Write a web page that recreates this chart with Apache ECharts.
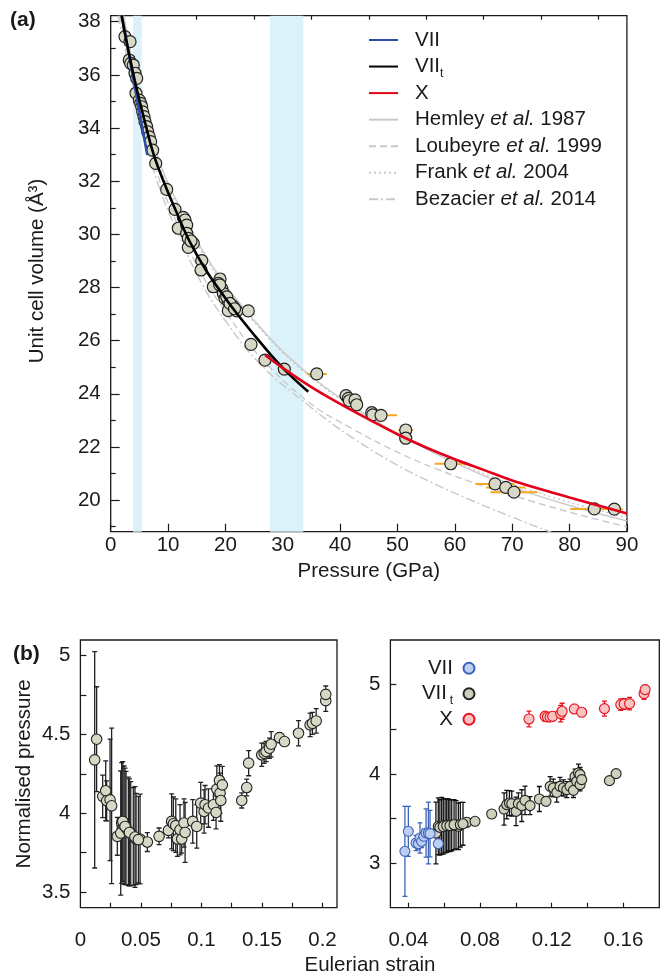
<!doctype html>
<html>
<head>
<meta charset="utf-8">
<script src="https://cdn.jsdelivr.net/npm/echarts@6/dist/echarts.min.js"></script>
<style>
html, body { margin: 0; padding: 0; background: #fff; }
#chart { width: 669px; height: 977px; }
</style>
</head>
<body>
<div id="chart"></div>
<script>
// ---- (a) measured points: pressure (GPa), volume (A^3), pressure error (GPa)
var pTop = [2.49,3.37,3.24,3.49,3.94,4.24,4.53,4.41,4.99,5.23,5.41,5.58,5.81,5.98,6.28,6.45,6.73,6.97,7.32,7.85,
  9.76,11.21,12.66,12.96,11.79,13.25,13.25,13.53,14.4,13.53,15.87,15.75,19.06,18.76,18.19,19.35,19.63,19.93,20.51,21.1,
  20.51,21.97,23.99,24.46,26.9,30.27,35.92,41.03,41.43,41.6,42.6,42.89,45.51,45.68,47.13,51.44,51.44,59.29,67.01,68.88,
  70.32,84.32,87.81,17.89,20.23,21.38,14.0,19.0,20.8,21.6];
var vTop = [37.44,37.25,36.56,36.43,36.37,36.06,35.87,35.31,35.05,34.93,34.80,34.61,34.43,34.24,34.05,33.86,33.67,33.49,33.17,32.67,
  31.69,30.94,30.64,30.54,30.23,30.35,30.04,29.85,29.66,29.51,29.01,28.66,28.32,28.16,28.06,27.97,27.78,27.59,27.47,27.34,
  27.13,27.12,27.12,25.86,25.27,24.93,24.75,23.93,23.83,23.74,23.77,23.59,23.29,23.21,23.19,22.64,22.33,21.37,20.61,20.48,
  20.30,19.67,19.66,28.03,27.65,27.28,29.75,28.1,27.4,27.2];
var ePTop = [0,0,0,0,0,0,0,0,0,0, 0,0,0,0,0,0,0,0,0,0, 0,0,0.4,0.5,0,0,0.4,0,0.5,0, 0,0,0.5,0,0,0,0.5,0,0,0.5,
  0,0,0.8,0,0,0,1.75,1.2,0,0, 0.8,0.8,1.0,0,2.8,1.3,0,2.8,3.4,3.4, 4.1,4.2,1.5,0,0,0,0,0,0,0];

// ---- (a) equations of state
var pVII = [1.92, 6.38];
var vVII = [38.25, 32.98];
var pVIIt = [1.9, 3, 4.5, 6, 7.5, 9.3, 11.5, 13.8, 16.7, 19.6, 22, 25, 28, 31, 34.45];
var vVIIt = [38.23, 37.0, 35.5, 34.2, 33.0, 31.95, 30.82, 29.72, 28.62, 27.72, 27.02, 26.22, 25.45, 24.76, 24.08];
var pX = [26.9, 30, 35, 40, 45, 50, 55, 60, 65, 70, 75, 80, 85, 90];
var vX = [25.46, 24.97, 24.25, 23.62, 23.04, 22.48, 21.98, 21.54, 21.14, 20.74, 20.41, 20.1, 19.8, 19.5];
var pHem = [2.3, 4, 6, 9, 12, 16, 20, 25, 30, 35, 40, 50, 60, 70, 80, 90];
var vHem = [38.23, 36.25, 34.5, 32.45, 31.03, 29.4, 28.1, 26.77, 25.6, 24.65, 23.85, 22.5, 21.4, 20.5, 19.8, 19.22];
var pFra = [2.1, 4, 6, 9, 12, 16, 20, 25, 30, 35, 40, 50, 60, 70, 80, 90];
var vFra = [38.23, 36.1, 34.35, 32.3, 30.9, 29.3, 28.0, 26.7, 25.55, 24.6, 23.8, 22.5, 21.45, 20.6, 19.92, 19.35];
var pLou = [1.6, 3, 5, 8, 12, 16, 20, 26, 34.45, 42, 50.44, 57, 64.4, 73.7, 82, 90];
var vLou = [38.23, 36.65, 34.75, 32.35, 30.2, 28.45, 27.1, 25.4, 23.7, 22.7, 21.76, 21.16, 20.57, 19.94, 19.43, 19.0];
var pBez = [1.3, 3, 5, 8, 12, 16, 20, 26, 34.75, 42, 50.44, 57, 62.07, 70, 76.6, 80];
var vBez = [38.23, 36.5, 34.5, 32.05, 29.9, 28.1, 26.75, 25.13, 23.52, 22.37, 21.26, 20.56, 20.07, 19.36, 18.81, 18.52];
// phase-transition pressure ranges (GPa)
var bandP = [[3.89, 5.41], [27.78, 33.58]];

// ---- (b) left: Eulerian strain, normalised pressure, error
var eL = [0.0118,0.0134,0.0184,0.0209,0.0217,0.0245,0.0258,
  0.0305,0.0333,0.0341,0.036,0.0377,0.0396,0.0416,0.0437,0.046,0.0493,0.0553,
  0.035,0.0369,0.0405,0.0451,0.0479, 0.065,0.0727,
  0.0754,0.0768,0.0788,0.0801,0.0823,0.0837,0.0856,0.0865,0.0928,0.0961,
  0.0994,0.1022,0.103,0.1058,0.1099,0.1121,0.1127,0.1149,0.1154,0.116,0.1173,
  0.1333,0.1374,0.139, 0.1498,0.1518,0.1534,0.1562,0.1576,0.1645,0.1686,
  0.1802,0.1898,0.1917,0.1948, 0.2027,0.2027];
var npL = [4.339,4.470,4.107,4.143,4.079,4.085,4.047,
  3.853,3.874,3.938,3.925,3.906,3.885,3.870,3.853,3.836,3.836,3.817,
  3.948,3.916,3.878,3.849,3.832, 3.853,3.891,
  3.948,3.933,3.921,3.836,3.895,3.836,3.938,3.878,3.948,3.916,
  4.064,4.011,4.054,4.033,4.054,4.005,4.153,4.208,4.128,4.081,4.180,
  4.081,4.163,4.318, 4.371,4.381,4.392,4.413,4.438,4.480,4.455,
  4.508,4.561,4.571,4.586, 4.715,4.755];
var errL = [0.687,0.333,0.135,0.19,0.127,0.386,0.494,
  0.12,0.394,0.383,0.375,0.36,0.344,0.33,0.31,0.29,0.285,0.06,
  0.38,0.37,0.34,0.32,0.275, 0.053,0.048,
  0.175,0.17,0.17,0.11,0.16,0.09,0.153,0.19,0.138,0.138,
  0.132,0.137,0.122,0.122,0.1,0.105,0.148,0.1,0.127,0.132,0.117,
  0.048,0.053,0.08, 0.074,0.064,0.064,0.064,0.08,0.032,0.021,
  0.08,0.074,0.07,0.078, 0.068,0.053];

// ---- (b) right: per phase
var eVII = [0.0381,0.04,0.0443,0.0456,0.0465,0.0474,0.0487,0.0499,0.0512,0.0521,0.0567];
var npVII = [3.132,3.356,3.225,3.217,3.281,3.244,3.3,3.337,3.337,3.33,3.217];
var errVII = [0.504,0.28,0.085,0.06,0.17,0.07,0.08,0.27,0.346,0.26,0.04];
var eVIIt = [0.0554,0.0567,0.0586,0.0605,0.0623,0.0642,0.0666,0.0679,0.0726,0.0772,0.0865,0.0934,0.0949,0.0964,0.0977,
  0.1001,0.1014,0.1033,0.1051,0.1079,0.1131,0.1168,0.1191,0.1209,0.1228,0.1246,0.1265,0.1284,0.1302,0.1321,
  0.133,0.1339,0.1349,0.1358,0.1358,0.1367,0.1522,0.1559, 0.0576,0.0595,0.0614,0.0632,0.0655,0.069,0.0705];
var npVIIt = [3.337,3.412,3.419,3.419,3.43,3.423,3.43,3.412,3.457,3.468,3.55,3.606,3.655,3.673,3.666,
  3.58,3.666,3.644,3.703,3.644,3.718,3.692,3.86,3.842,3.793,3.86,3.842,3.823,3.86,3.815,
  3.972,3.916,4.01,3.879,3.991,3.935,3.924,4.002, 3.40,3.41,3.42,3.42,3.43,3.43,3.44];
var errVIIt = [0.346,0.318,0.318,0.303,0.29,0.285,0.27,0.26,0.05,0.04,0.03,0.18,0.16,0.14,0.14,
  0.16,0.12,0.178,0.16,0.1,0.14,0.03,0.11,0.1,0.11,0.1,0.09,0.09,0.08,0.08,
  0.08,0.07,0.1,0.07,0.08,0.07,0,0, 0.31,0.31,0.3,0.29,0.28,0.25,0.24];
var eX = [0.1073,0.1163,0.1176,0.1191,0.1205,0.125,0.1258,0.1326,0.1367,0.1494,0.1585,0.1604,0.1634,0.1715,0.1721];
var npX = [4.615,4.645,4.637,4.637,4.645,4.675,4.701,4.727,4.69,4.731,4.776,4.783,4.787,4.899,4.944];
var errX = [0.088,0.056,0.05,0.05,0.05,0.093,0.09,0.05,0.04,0.084,0.065,0.06,0.07,0.065,0.05];

// ---- tick positions
var topXMajor = [0,10,20,30,40,50,60,70,80,90];
var topXMinor = [5,15,25,35,45,55,65,75,85];
var topYMajor = [20,22,24,26,28,30,32,34,36,38];
var topYMinor = [19,21,23,25,27,29,31,33,35,37];
var blXTicks = [0.025,0.05,0.075,0.1,0.125,0.15,0.175,0.2];
var blXLabels = [0,0.05,0.1,0.15,0.2];
var blYTicks = [3.5,3.75,4,4.25,4.5,4.75,5];
var blYLabels = [3.5,4,4.5,5];
var brXTicks = [0.04,0.06,0.08,0.1,0.12,0.14,0.16];
var brXLabels = [0.04,0.08,0.12,0.16];
var brYTicks = [3,3.5,4,4.5,5];
var brYLabels = [3,4,5];

var FF = "'Liberation Sans', Arial, Helvetica, sans-serif";
var FS = 20.5;
var INK = '#1a1a1a';

function zip(a, b, c) {
  return a.map(function (v, i) { return c ? [v, b[i], c[i]] : [v, b[i]]; });
}

function vErr(color, cap) {
  return function (params, api) {
    var x = api.value(0), y = api.value(1), e = api.value(2);
    if (!e) return;
    var t = api.coord([x, y + e]), b = api.coord([x, y - e]);
    var st = { stroke: color, lineWidth: 1.3 };
    return { type: 'group', children: [
      { type: 'line', shape: { x1: t[0], y1: t[1], x2: b[0], y2: b[1] }, style: st },
      { type: 'line', shape: { x1: t[0] - cap, y1: t[1], x2: t[0] + cap, y2: t[1] }, style: st },
      { type: 'line', shape: { x1: b[0] - cap, y1: b[1], x2: b[0] + cap, y2: b[1] }, style: st }
    ] };
  };
}

function hErr(params, api) {
  var x = api.value(0), y = api.value(1), e = api.value(2);
  if (!e) return;
  var l = api.coord([x - e, y]), r = api.coord([x + e, y]);
  return { type: 'line', shape: { x1: l[0], y1: l[1], x2: r[0], y2: r[1] },
    style: { stroke: '#f7a823', lineWidth: 2 } };
}

function valAxis(grid, min, max, ticks, labels, len, extra) {
  var ax = {
    type: 'value', gridIndex: grid, min: min, max: max,
    axisLine: { show: false }, splitLine: { show: false },
    axisTick: { show: true, inside: true, length: len, customValues: ticks,
      lineStyle: { color: INK, width: 1.2 } },
    axisLabel: labels ? { show: true, customValues: labels, color: INK, fontSize: FS, fontFamily: FF }
      : { show: false }
  };
  for (var k in extra) {
    if (k === 'axisLabel') { for (var j in extra[k]) ax.axisLabel[j] = extra[k][j]; }
    else ax[k] = extra[k];
  }
  return ax;
}

function refLine(name, p, v, type) {
  return { name: name, type: 'line', xAxisIndex: 0, yAxisIndex: 0, data: zip(p, v),
    symbol: 'none', smooth: 0.4, z: 1, silent: true,
    itemStyle: { color: '#c9c9c9' },
    lineStyle: { color: '#c9c9c9', width: 1.4, type: type } };
}

var topNames = {
  VII: '{g| }{n|VII}',
  VIIt: '{g| }{n|VII}{s|t}',
  X: '{g| }{n|X}',
  Hemley: '{g| }{n|Hemley }{i|et al.}{n| 1987}',
  Loubeyre: '{g| }{n|Loubeyre }{i|et al.}{n| 1999}',
  Frank: '{g| }{n|Frank }{i|et al.}{n| 2004}',
  Bezacier: '{g| }{n|Bezacier }{i|et al.}{n| 2014}'
};
var botNames = { sVII: '{r|VII}{h| }', sVIIt: '{q|VII}{s|t}{h| }', sX: '{r|X}{h| }' };

var chart = echarts.init(document.getElementById('chart'));
var option = {
  animation: false,
  backgroundColor: '#fff',
  textStyle: { fontFamily: FF },
  grid: [
    { left: 110.7, top: 15.7, width: 516.2, height: 516, show: true, borderColor: INK, borderWidth: 1.3,
      backgroundColor: 'transparent', outerBoundsMode: 'none' },
    { left: 80.4, top: 640, width: 256.6, height: 267.7, show: true, borderColor: INK, borderWidth: 1.3,
      backgroundColor: 'transparent', outerBoundsMode: 'none' },
    { left: 390.4, top: 640, width: 268.9, height: 267.7, show: true, borderColor: INK, borderWidth: 1.3,
      backgroundColor: 'transparent', outerBoundsMode: 'none' }
  ],
  xAxis: [
    valAxis(0, 0, 90, topXMajor, topXMajor, 8, { axisLabel: { margin: 3 },
      name: 'Pressure (GPa)', nameLocation: 'middle', nameGap: 17,
      nameTextStyle: { color: INK, fontSize: FS, fontFamily: FF } }),
    valAxis(0, 0, 90, topXMinor, null, 4, {}),
    valAxis(1, 0, 0.212, blXTicks, blXLabels, 5, { axisLabel: { margin: 22 } }),
    valAxis(2, 0.03, 0.18, brXTicks, brXLabels, 5, { axisLabel: { margin: 22 } })
  ],
  yAxis: [
    valAxis(0, 18.813, 38.226, topYMajor, topYMajor, 9, { position: 'left', axisLabel: { margin: 10 } }),
    valAxis(0, 18.813, 38.226, topYMinor, null, 5, { position: 'left' }),
    valAxis(1, 3.4, 5.1, blYTicks, blYLabels, 6, { position: 'left', axisLabel: { margin: 10 },
      name: 'Normalised pressure', nameLocation: 'middle', nameGap: 46,
      nameTextStyle: { color: INK, fontSize: FS, fontFamily: FF } }),
    valAxis(2, 2.5, 5.5, brYTicks, brYLabels, 6, { position: 'left', axisLabel: { margin: 10 } })
  ],
  legend: [
    {
      orient: 'vertical', left: 368, top: 27, padding: 0, itemWidth: 29, itemHeight: 26, itemGap: 0.55,
      selectedMode: false, data: ['VII', 'VIIt', 'X', 'Hemley', 'Loubeyre', 'Frank', 'Bezacier'],
      itemStyle: { opacity: 0 },
      formatter: function (n) { return topNames[n]; },
      textStyle: { color: INK, fontFamily: FF, fontSize: FS, lineHeight: 26, rich: {
        g: { width: 12, fontSize: FS, lineHeight: 26 },
        n: { fontSize: FS, lineHeight: 26, fontFamily: FF, color: INK },
        i: { fontSize: FS, lineHeight: 26, fontStyle: 'italic', fontFamily: FF, color: INK },
        s: { fontSize: 12, lineHeight: 12, padding: [14, 0, 0, 0], width: 6, fontFamily: FF, color: INK }
      } }
    },
    {
      orient: 'vertical', left: 413, top: 655.5, padding: 0, align: 'right', itemWidth: 11, itemHeight: 11, itemGap: 0,
      icon: 'circle', selectedMode: false, data: ['sVII', 'sVIIt', 'sX'],
      formatter: function (n) { return botNames[n]; },
      textStyle: { color: INK, fontFamily: FF, fontSize: FS, lineHeight: 25.5, rich: {
        r: { width: 40, align: 'right', fontSize: FS, lineHeight: 25.5, fontFamily: FF, color: INK },
        q: { width: 34, align: 'right', fontSize: FS, lineHeight: 25.5, fontFamily: FF, color: INK },
        s: { fontSize: 12, lineHeight: 12, padding: [13.5, 0, 0, 0], width: 6, fontFamily: FF, color: INK },
        h: { width: 5.5, fontSize: FS, lineHeight: 25.5 }
      } }
    }
  ],
  graphic: [
    { type: 'text', left: 10, top: 10, style: { text: '(a)', fill: INK, font: 'bold 21px ' + FF } },
    { type: 'text', left: 13, top: 644, style: { text: '(b)', fill: INK, font: 'bold 21px ' + FF } },
    { type: 'text', x: 37, y: 271, rotation: Math.PI / 2, style: { text: 'Unit cell volume (Å³)', fill: INK,
      fontSize: FS, fontFamily: FF, align: 'center', verticalAlign: 'middle' } },
    { type: 'text', x: 370, y: 965, style: { text: 'Eulerian strain', fill: INK, fontSize: FS,
      fontFamily: FF, align: 'center', verticalAlign: 'middle' } }
  ],
  series: [
    { name: 'bands', type: 'line', xAxisIndex: 0, yAxisIndex: 0, data: [[0, 10]], symbol: 'none',
      lineStyle: { opacity: 0 }, z: 0, silent: true,
      markArea: { silent: true, itemStyle: { color: '#dbf2fb', opacity: 1 },
        data: bandP.map(function (b) { return [{ xAxis: b[0] }, { xAxis: b[1] }]; }) } },
    refLine('Hemley', pHem, vHem, 'solid'),
    refLine('Loubeyre', pLou, vLou, [7, 4]),
    refLine('Frank', pFra, vFra, [2, 3]),
    refLine('Bezacier', pBez, vBez, [9, 3, 2, 3]),
    { name: 'perr', type: 'custom', xAxisIndex: 0, yAxisIndex: 0, renderItem: hErr, clip: true,
      encode: { x: 0, y: 1 }, data: zip(pTop, vTop, ePTop), z: 2, silent: true },
    { name: 'pts', type: 'scatter', xAxisIndex: 0, yAxisIndex: 0, data: zip(pTop, vTop), symbolSize: 12,
      itemStyle: { color: '#d8d8c6', borderColor: '#222', borderWidth: 1.2, opacity: 1 }, z: 3, silent: true },
    { name: 'VII', type: 'line', xAxisIndex: 0, yAxisIndex: 0, data: zip(pVII, vVII), symbol: 'none',
      lineStyle: { color: '#2c4fa6', width: 2.6 }, itemStyle: { color: '#2c4fa6' }, z: 4 },
    { name: 'VIIt', type: 'line', xAxisIndex: 0, yAxisIndex: 0, data: zip(pVIIt, vVIIt), symbol: 'none',
      smooth: 0.4, lineStyle: { color: '#000', width: 2.6 }, itemStyle: { color: '#000' }, z: 4 },
    { name: 'X', type: 'line', xAxisIndex: 0, yAxisIndex: 0, data: zip(pX, vX), symbol: 'none',
      smooth: 0.4, lineStyle: { color: '#e2001a', width: 2.6 }, itemStyle: { color: '#e2001a' }, z: 4 },

    { name: 'errL', type: 'custom', xAxisIndex: 2, yAxisIndex: 2, renderItem: vErr('#222', 2.5), clip: true,
      encode: { x: 0, y: 1 }, data: zip(eL, npL, errL), z: 2, silent: true },
    { name: 'ptsL', type: 'scatter', xAxisIndex: 2, yAxisIndex: 2, data: zip(eL, npL), symbolSize: 10.5,
      itemStyle: { color: '#d8d8c6', borderColor: '#222', borderWidth: 1.1, opacity: 1 }, z: 3, silent: true },

    { name: 'errVIIt', type: 'custom', xAxisIndex: 3, yAxisIndex: 3, renderItem: vErr('#111', 2.5), clip: true,
      encode: { x: 0, y: 1 }, data: zip(eVIIt, npVIIt, errVIIt), z: 2, silent: true },
    { name: 'errVII', type: 'custom', xAxisIndex: 3, yAxisIndex: 3, renderItem: vErr('#3d63b8', 2.5), clip: true,
      encode: { x: 0, y: 1 }, data: zip(eVII, npVII, errVII), z: 2, silent: true },
    { name: 'errX', type: 'custom', xAxisIndex: 3, yAxisIndex: 3, renderItem: vErr('#e3141c', 2.5), clip: true,
      encode: { x: 0, y: 1 }, data: zip(eX, npX, errX), z: 2, silent: true },
    { name: 'sVIIt', type: 'scatter', xAxisIndex: 3, yAxisIndex: 3, data: zip(eVIIt, npVIIt), symbolSize: 10,
      itemStyle: { color: '#cfd0bc', borderColor: '#222', borderWidth: 1.1, opacity: 1 }, z: 3, silent: true },
    { name: 'sVII', type: 'scatter', xAxisIndex: 3, yAxisIndex: 3, data: zip(eVII, npVII), symbolSize: 10,
      itemStyle: { color: '#bccff3', borderColor: '#3d63b8', borderWidth: 1.1, opacity: 1 }, z: 3, silent: true },
    { name: 'sX', type: 'scatter', xAxisIndex: 3, yAxisIndex: 3, data: zip(eX, npX), symbolSize: 10,
      itemStyle: { color: '#f9c3c3', borderColor: '#e3141c', borderWidth: 1.1, opacity: 1 }, z: 3, silent: true }
  ]
};
chart.setOption(option);
</script>
</body>
</html>
